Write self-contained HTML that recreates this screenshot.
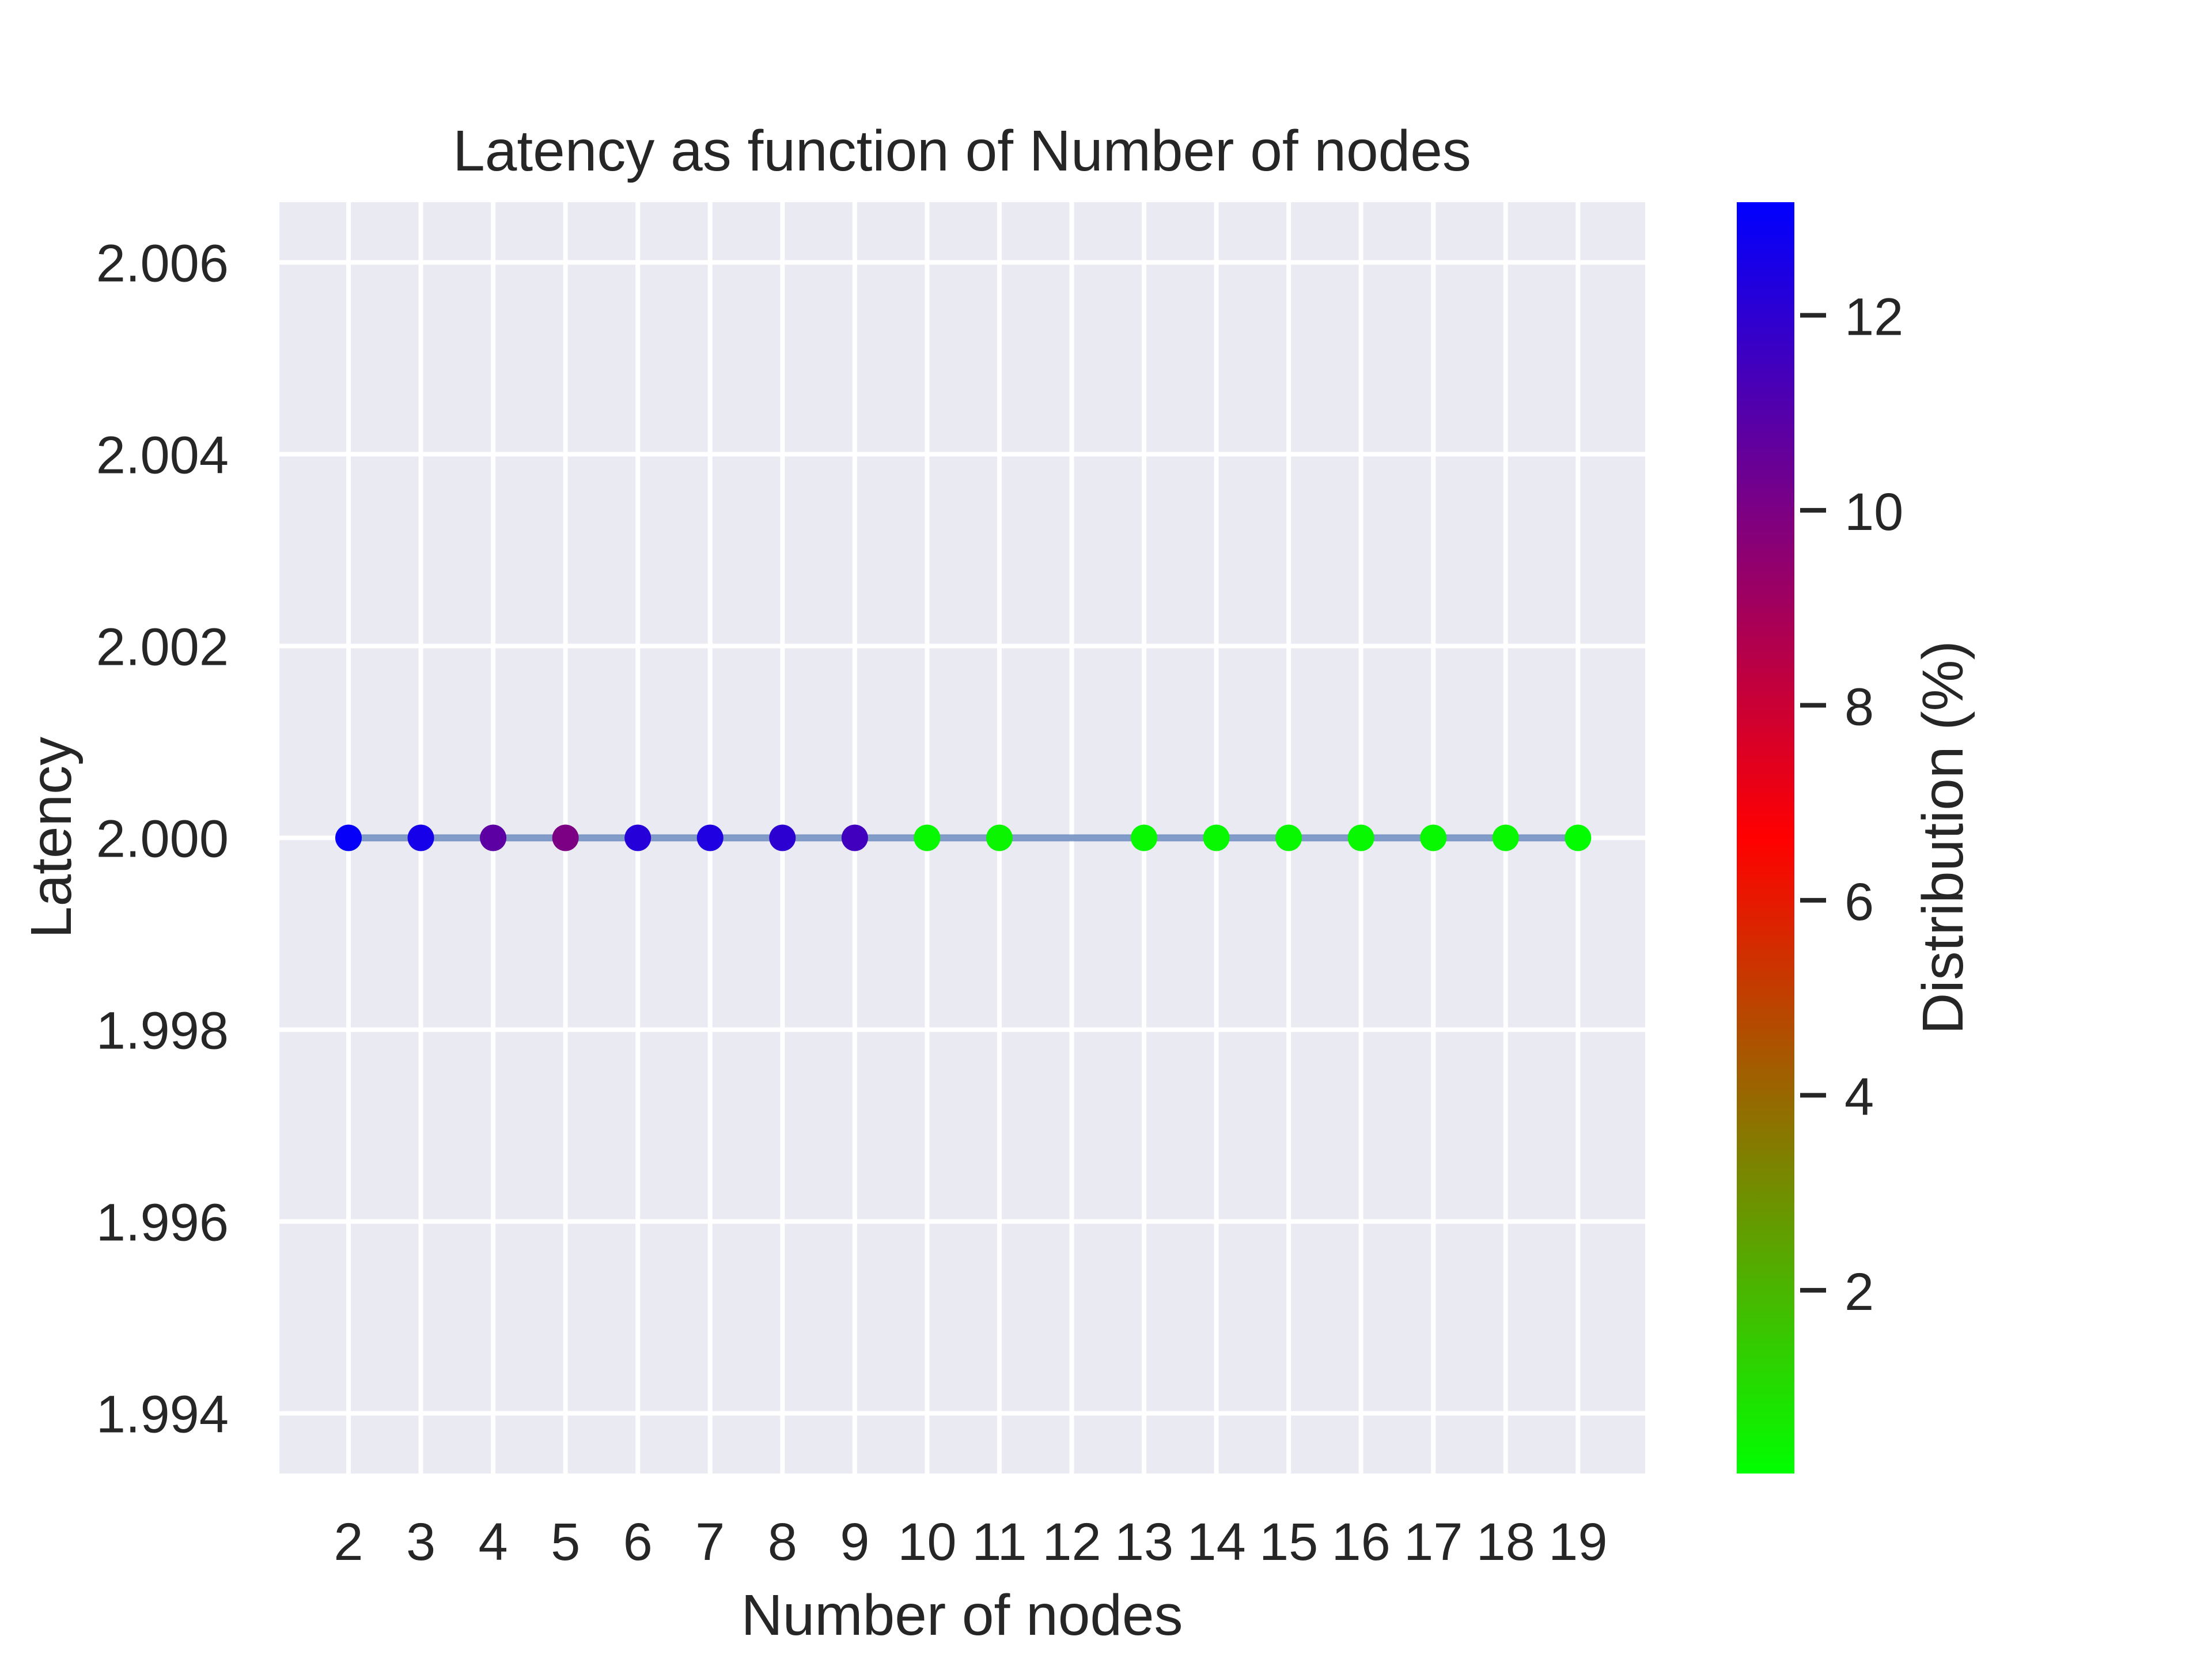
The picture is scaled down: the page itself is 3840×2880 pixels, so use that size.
<!DOCTYPE html>
<html><head><meta charset="utf-8"><style>
html,body{margin:0;padding:0;background:#fff;}
svg{display:block;font-family:"Liberation Sans",Arial,sans-serif;}
</style></head><body>
<svg id="chart" width="3840" height="2880" viewBox="0 0 3840 2880">
<defs>
<linearGradient id="cmap" x1="0" y1="1" x2="0" y2="0">
<stop offset="0" stop-color="#00ff00"/><stop offset="0.5" stop-color="#ff0000"/><stop offset="1" stop-color="#0000ff"/>
</linearGradient>
</defs>
<rect x="485" y="351" width="2371" height="2207" fill="#eaeaf2"/>
<g id="grid"></g>
<g id="series"></g>
<g id="ticks"></g>
<text x="1670" y="296" font-size="100" text-anchor="middle" fill="#262626">Latency as function of Number of nodes</text>
<text x="1670" y="2838" font-size="100" text-anchor="middle" fill="#262626">Number of nodes</text>
<text transform="translate(123,1454) rotate(-90)" font-size="100" text-anchor="middle" fill="#262626">Latency</text>
<rect x="3015" y="351" width="100" height="2207" fill="url(#cmap)"/>
<g id="cbticks"></g>
<text transform="translate(3407,1454) rotate(-90)" font-size="100" text-anchor="middle" fill="#262626">Distribution (%)</text>
</svg>
<script>
const nodes = [2,3,4,5,6,7,8,9,10,11,13,14,15,16,17,18,19];
const latency = [2,2,2,2,2,2,2,2,2,2,2,2,2,2,2,2,2];
const distribution = [13.0,12.6,10.8,10.0,12.2,12.4,12.0,11.5,0.3,0.4,0.3,0.3,0.3,0.3,0.3,0.3,0.2];
const xTickLabels = [2,3,4,5,6,7,8,9,10,11,12,13,14,15,16,17,18,19];
const yTickLabels = ["1.994","1.996","1.998","2.000","2.002","2.004","2.006"];
const yTickValues = [1.994,1.996,1.998,2.000,2.002,2.004,2.006];
const cbTickValues = [2,4,6,8,10,12];

const NS="http://www.w3.org/2000/svg";
const X0=485,X1=2856,Y0=351,Y1=2558;
const xs=v=>605+(v-2)*125.55;
const ys=v=>1454.5-(v-2)*166500;
const cMin=0.12,cMax=13.16;
const cbY=v=>Y1-(v-cMin)/(cMax-cMin)*(Y1-Y0);
function cmap(v){let t=Math.max(0,Math.min(1,(v-cMin)/(cMax-cMin)));
 let r,g,b; if(t<0.5){const u=t/0.5;r=255*u;g=255*(1-u);b=0;}else{const u=(t-0.5)/0.5;r=255*(1-u);g=0;b=255*u;}
 return `rgb(${Math.round(r)},${Math.round(g)},${Math.round(b)})`;}
function mk(tag,attrs,parent){const e=document.createElementNS(NS,tag);for(const k in attrs)e.setAttribute(k,attrs[k]);document.getElementById(parent).appendChild(e);return e;}

xTickLabels.forEach(v=>{
 const l=mk('line',{x1:xs(v),x2:xs(v),y1:Y0,y2:Y1,stroke:'#fff','stroke-width':8},'grid');
 
 
 const t=mk('text',{x:xs(v),y:2708,'font-size':92,'text-anchor':'middle',fill:'#262626'},'ticks');
 t.textContent=v;
 
 
});
yTickValues.forEach((v,i)=>{
 const l=mk('line',{x1:X0,x2:X1,y1:ys(v),y2:ys(v),stroke:'#fff','stroke-width':8},'grid');
 
 
 const t=mk('text',{x:397,y:ys(v)+33,'font-size':92,'text-anchor':'end',fill:'#262626'},'ticks');
 t.textContent=yTickLabels[i];
 
 
});
const pl=mk('polyline',{points:nodes.map((n,i)=>xs(n)+','+ys(latency[i])).join(' '),fill:'none',stroke:'#4c72b0','stroke-opacity':0.7,'stroke-width':12,'stroke-linecap':'round'},'series');


nodes.forEach((n,i)=>{
 const c=mk('circle',{cx:xs(n),cy:ys(latency[i]),r:23,fill:cmap(distribution[i])},'series');
 
 
});
cbTickValues.forEach(v=>{
 const l=mk('line',{x1:3125,x2:3170,y1:cbY(v),y2:cbY(v),stroke:'#262626','stroke-width':8},'cbticks');
 
 
 const t=mk('text',{x:3202,y:cbY(v)+34,'font-size':92,fill:'#262626'},'cbticks');
 t.textContent=v;
 
 
});
</script>
</body></html>
